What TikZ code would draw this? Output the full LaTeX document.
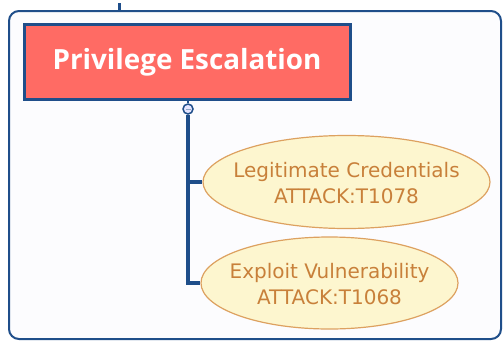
\documentclass[tikz,border=0pt]{standalone}
\usepackage{fontspec}
\setmainfont{DejaVu Sans}
\newfontfamily\titlefont{Open Sans}
\usetikzlibrary{shapes.geometric}
\definecolor{frameblue}{HTML}{1F4E8A}
\definecolor{titlered}{HTML}{FF6B64}
\definecolor{ellfill}{HTML}{FDF6CF}
\definecolor{elledge}{HTML}{DDA160}
\definecolor{elltext}{HTML}{C8803A}
\definecolor{panel}{HTML}{FCFCFE}
\tikzset{
  frame/.style={draw=frameblue, line width=2pt, rounded corners=10pt, fill=panel},
  titlebox/.style={draw=frameblue, line width=3pt, fill=titlered, text=white, inner sep=0pt,
     font=\titlefont\bfseries\fontsize{27.8}{32}\selectfont},
  leaf/.style={ellipse, draw=elledge, line width=1.2pt, fill=ellfill, inner sep=0pt},
  leaftext/.style={text=elltext, inner sep=0pt, align=center, font=\fontsize{20}{26}\selectfont},
  conn/.style={draw=frameblue, line width=3.5pt},
  toggle/.style={circle, draw=frameblue, line width=1.5pt, fill=white!90!blue, minimum size=10pt, inner sep=0pt}
}
\begin{document}
\begin{tikzpicture}[x=1pt,y=-1pt]
\useasboundingbox (0,0) rectangle (503,343);
\fill[white] (0,0) rectangle (503,343);
\coordinate (tickA) at (119,11);
\coordinate (tickB) at (119,3);
\draw[frame] (9,11) rectangle (501,339);
\draw[frameblue, line width=3pt] (tickA) -- (tickB);
\node[titlebox, minimum width=326pt, minimum height=75pt] (title) at (187,62) {Privilege Escalation};
\node[toggle] (tg) at (188,109) {};
\draw[frameblue, line width=2pt] (title.south -| tg) -- (tg.north);
\draw[frameblue!50, line width=0.8pt] (185.5,109) -- (190.5,109);
\node[leaf, minimum width=287pt, minimum height=93pt] (e1) at (346.5,182) {};
\node[leaftext] (t1) at (346.5,183) {Legitimate Credentials\\ATTACK:T1078};
\node[leaf, minimum width=257pt, minimum height=92pt] (e2) at (329.5,283) {};
\node[leaftext] (t2) at (329.5,284) {Exploit Vulnerability\\ATTACK:T1068};
\draw[conn] (tg.south) |- (e1.west);
\draw[conn] (tg.south) |- (e2.west);
\end{tikzpicture}
\end{document}
